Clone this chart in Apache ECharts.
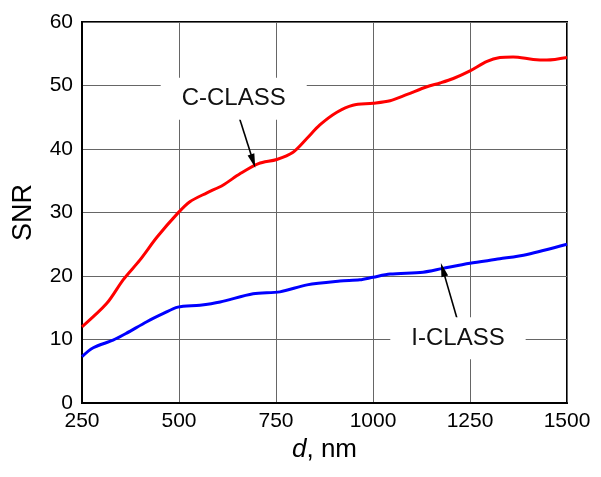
<!DOCTYPE html>
<html lang="en">
<head>
  <meta charset="UTF-8">
  <title>SNR vs d</title>
  <style>
    html, body { margin: 0; padding: 0; background: #fff; }
    #myEcharts { width: 601px; height: 477px; }
  </style>
  <script src="https://cdn.jsdelivr.net/npm/echarts@6/dist/echarts.min.js"></script>
</head>
<body>
  <div id="myEcharts"></div>
  <script>
    // d (nm) and SNR
    var cClassD   = [250, 314, 356, 399, 443, 497, 528, 572, 613, 657, 705, 752, 794, 830, 863, 907, 948, 1000, 1044, 1088, 1139, 1173, 1207, 1250, 1294, 1327, 1361, 1413, 1448, 1500];
    var cClassSnr = [12.0, 15.7, 19.4, 22.5, 26.1, 29.9, 31.7, 33.1, 34.3, 36.1, 37.7, 38.35, 39.5, 41.7, 43.8, 45.8, 46.9, 47.2, 47.6, 48.6, 49.8, 50.4, 51.1, 52.3, 53.8, 54.4, 54.5, 54.1, 54.0, 54.4];

    var iClassD   = [250, 279, 330, 365, 417, 460, 497, 554, 606, 691, 760, 830, 915, 966, 1000, 1044, 1129, 1180, 1250, 1327, 1397, 1500];
    var iClassSnr = [7.3, 8.7, 9.9, 11.0, 12.8, 14.1, 15.1, 15.4, 15.9, 17.2, 17.5, 18.6, 19.2, 19.4, 19.8, 20.3, 20.6, 21.2, 22.0, 22.7, 23.4, 25.0];

    // annotations in data units: label centre, arrow start, arrow tip
    var cLabel = [641, 47.9], cArrow = [[652, 45.6], [691, 38.1]];
    var iLabel = [1219, 10.2], iArrow = [[1219, 12.8], [1180, 21.0]];

    function pairs(xs, ys) {
      return xs.map(function (x, i) { return [x, ys[i]]; });
    }

    var font = 'Liberation Sans, Arial, sans-serif';

    function annotation(name, at, arrow) {
      return {
        markPoint: {
          silent: true,
          symbol: 'circle',
          symbolSize: 0,
          label: {
            show: true,
            position: 'inside',
            formatter: name,
            color: '#111',
            fontFamily: font,
            fontSize: 24,
            backgroundColor: '#fff',
            padding: [9, 21]
          },
          data: [{ coord: at }]
        },
        markLine: {
          silent: true,
          symbol: ['none', 'path://M5,0 L10,20 L0,20 Z'],
          symbolSize: [7, 14],
          label: { show: false },
          lineStyle: { color: '#000', width: 1.6, type: 'solid' },
          data: [[{ coord: arrow[0] }, { coord: arrow[1] }]]
        }
      };
    }

    var myChart = echarts.init(document.getElementById('myEcharts'));

    var cSeries = Object.assign({
      name: 'C-CLASS',
      type: 'line',
      data: pairs(cClassD, cClassSnr),
      smooth: 0.3,
      showSymbol: false,
      lineStyle: { color: '#ff0000', width: 3 },
      z: 3
    }, annotation('C-CLASS', cLabel, cArrow));

    var iSeries = Object.assign({
      name: 'I-CLASS',
      type: 'line',
      data: pairs(iClassD, iClassSnr),
      smooth: 0.3,
      showSymbol: false,
      lineStyle: { color: '#0000ff', width: 3 },
      z: 3
    }, annotation('I-CLASS', iLabel, iArrow));

    var option = {
      animation: false,
      grid: {
        left: 82, right: 34, top: 22, bottom: 74,
        show: true,
        borderColor: '#000',
        borderWidth: 2
      },
      xAxis: {
        type: 'value',
        min: 250, max: 1500, interval: 250,
        name: '{i|d}, nm',
        nameLocation: 'middle',
        nameGap: 34,
        nameTextStyle: {
          fontFamily: font, fontSize: 26, color: '#000',
          rich: { i: { fontStyle: 'italic', fontFamily: font, fontSize: 26, color: '#000' } }
        },
        axisLine: { show: true, lineStyle: { color: '#000', width: 2 } },
        axisTick: { show: false },
        axisLabel: {
          fontFamily: font, fontSize: 21, color: '#000', margin: 8,
          formatter: function (v) { return String(v); }
        },
        splitLine: { show: true, lineStyle: { color: '#666', width: 1 } }
      },
      yAxis: {
        type: 'value',
        min: 0, max: 60, interval: 10,
        name: 'SNR',
        nameLocation: 'middle',
        nameGap: 45,
        nameTextStyle: { fontFamily: font, fontSize: 27, color: '#000' },
        axisLine: { show: true, lineStyle: { color: '#000', width: 2 } },
        axisTick: { show: false },
        axisLabel: { fontFamily: font, fontSize: 21, color: '#000', margin: 9 },
        splitLine: { show: true, lineStyle: { color: '#666', width: 1 } }
      },
      series: [cSeries, iSeries]
    };

    myChart.setOption(option);
  </script>
</body>
</html>
